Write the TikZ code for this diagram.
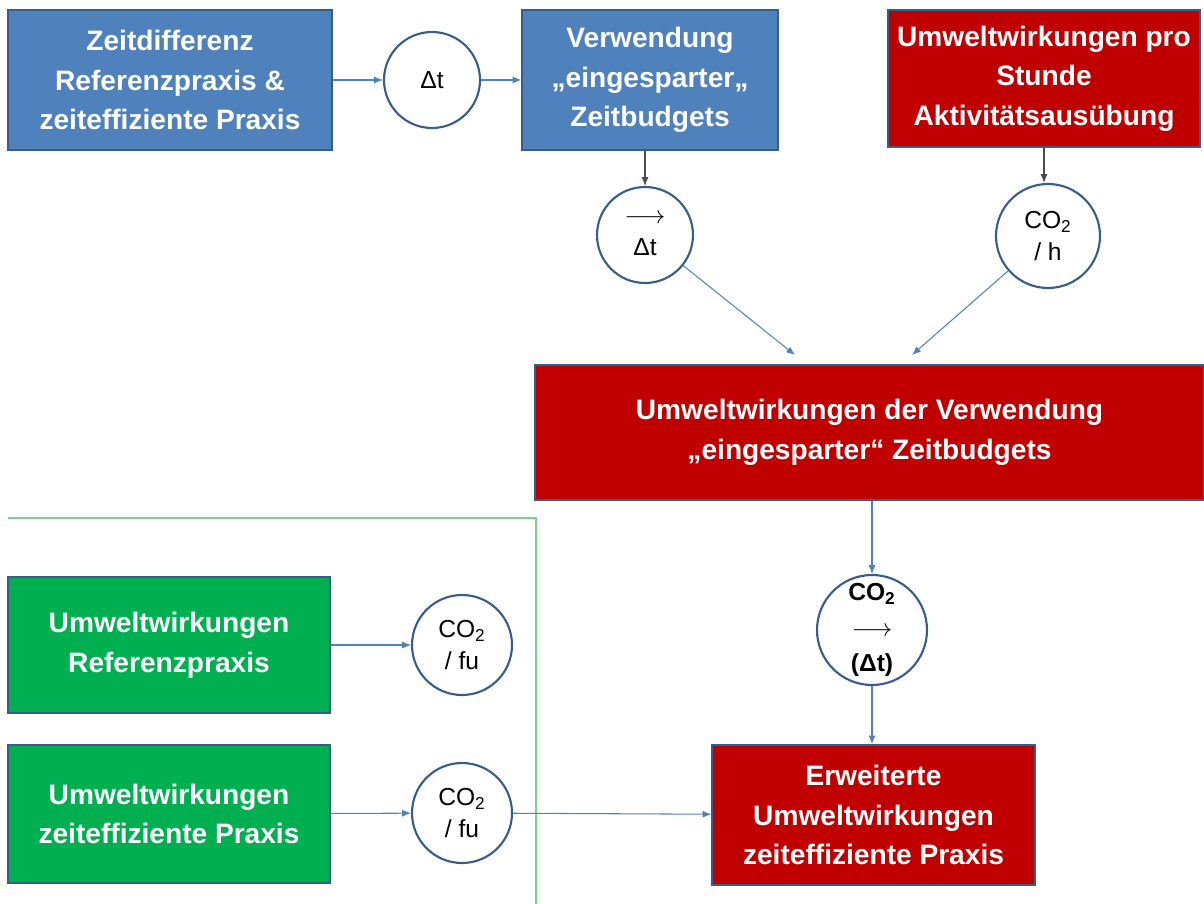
\documentclass[tikz,border=0pt]{standalone}
\usepackage{fontspec}
\setmainfont{Liberation Sans}
\usetikzlibrary{arrows.meta}
\definecolor{boxblue}{RGB}{79,129,189}
\definecolor{rimblue}{RGB}{56,93,138}
\definecolor{boxred}{RGB}{192,0,0}
\definecolor{boxgreen}{RGB}{0,176,80}
\definecolor{linegreen}{RGB}{120,210,150}
\begin{document}
\begin{tikzpicture}[>={Latex[length=5pt,width=4pt]},
  box/.style={rectangle,draw=rimblue,line width=0.8pt,text=white,align=center,inner sep=0pt,
    font=\fontsize{16}{22.5}\selectfont\bfseries},
  bluebox/.style={box,fill=boxblue},
  redbox/.style={box,fill=boxred},
  greenbox/.style={box,fill=boxgreen},
  ring/.style={circle,draw=rimblue,line width=1.2pt,fill=white,align=center,inner sep=0pt,
    font=\fontsize{14}{18}\selectfont},
  link/.style={->,every edge/.style={draw=boxblue,line width=0.6pt}},
  greylink/.style={->,every edge/.style={draw=black!70,line width=0.6pt}}]

  \useasboundingbox (0,0) rectangle (24.08,-18.08);

  % upper row
  \node[bluebox,minimum width=6.48cm,minimum height=2.8cm] (diff) at (3.40,-1.60)
    {Zeitdifferenz\\Referenzpraxis \&\\zeiteffiziente Praxis};
  \node[ring,minimum size=1.92cm] (dt) at (8.64,-1.60) {Δt};
  \node[bluebox,minimum width=5.12cm,minimum height=2.8cm] (use) at (13.00,-1.60)
    {Verwendung\\„eingesparter„\\Zeitbudgets};
  \node[redbox,minimum width=6.24cm,minimum height=2.74cm] (hour) at (20.88,-1.57)
    {Umweltwirkungen pro\\Stunde\\Aktivitätsausübung};

  \node[ring,minimum size=1.92cm] (dtarrow) at (12.90,-4.70) {$\longrightarrow$\\Δt};
  \node[ring,minimum size=2.08cm] (perh) at (20.96,-4.72) {CO\textsubscript{2}\\/ h};

  \node[redbox,minimum width=13.38cm,minimum height=2.7cm] (saved) at (17.39,-8.65)
    {Umweltwirkungen der Verwendung\\„eingesparter“ Zeitbudgets};
  \coordinate (inl) at (15.90,-7.10);
  \coordinate (inr) at (18.24,-7.10);

  \node[ring,minimum size=2.2cm,font=\fontsize{14}{20}\selectfont\bfseries] (shift) at (17.44,-12.60)
    {CO\textsubscript{2}\\$\longrightarrow$\\(Δt)};

  \node[redbox,minimum width=6.46cm,minimum height=2.8cm] (ext) at (17.47,-16.30)
    {Erweiterte\\Umweltwirkungen\\zeiteffiziente Praxis};

  % lower left
  \node[greenbox,minimum width=6.44cm,minimum height=2.72cm] (ref) at (3.38,-12.90)
    {Umweltwirkungen\\Referenzpraxis};
  \node[greenbox,minimum width=6.44cm,minimum height=2.76cm] (eff) at (3.38,-16.28)
    {Umweltwirkungen\\zeiteffiziente Praxis};
  \node[ring,minimum size=2.0cm] (furef) at (9.24,-12.90) {CO\textsubscript{2}\\/ fu};
  \node[ring,minimum size=2.0cm] (fueff) at (9.24,-16.26) {CO\textsubscript{2}\\/ fu};

  \coordinate (g1) at (0.16,-10.36);
  \coordinate (g2) at (10.72,-10.36);
  \coordinate (g3) at (10.72,-18.08);
  \draw[linegreen,line width=0.8pt] (g1) -- (g2) -- (g3);

  \path[link]
    (diff) edge[] (dt)
    (dt) edge[] (use)
    (dtarrow) edge[] (inl)
    (perh) edge[] (inr)
    (ref) edge[] (furef)
    (eff) edge[] (fueff)
    (fueff) edge[] (ext)
    (shift.south) edge[] (ext.north -| shift.south)
    (saved.south -| shift.north) edge[] (shift.north);
  \path[greylink]
    (use.south -| dtarrow.north) edge[] (dtarrow.north)
    (hour.south) edge[] (hour.south |- perh.north);
\end{tikzpicture}
\end{document}
